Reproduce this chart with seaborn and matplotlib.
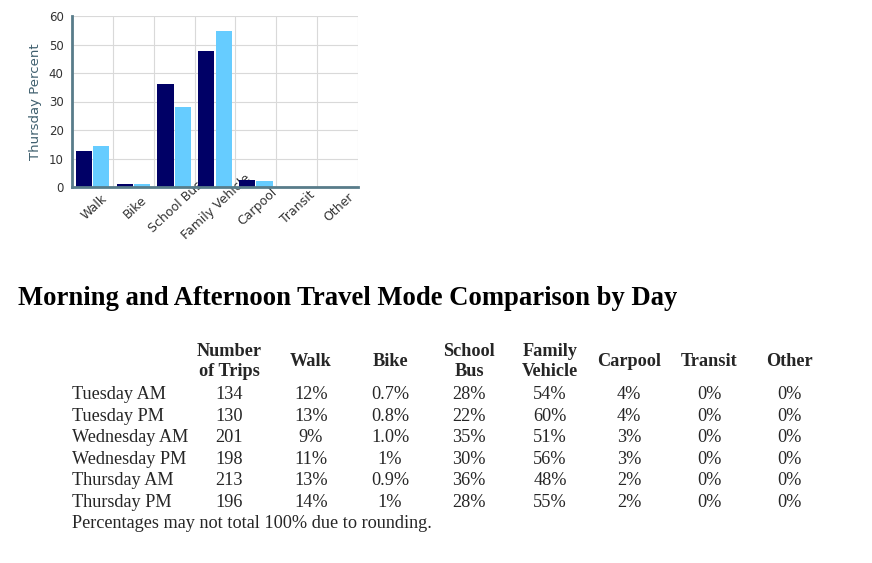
import numpy as np
import pandas as pd
import matplotlib
matplotlib.use("Agg")
import matplotlib.pyplot as plt
import matplotlib.transforms as mtransforms
import seaborn as sns

# ---------------- data ----------------
modes = ["Walk", "Bike", "School Bus", "Family Vehicle", "Carpool", "Transit", "Other"]
thursday_am = [12.7, 0.9, 36.2, 47.6, 2.5, 0.0, 0.0]
thursday_pm = [14.3, 1.0, 28.1, 54.6, 2.1, 0.0, 0.0]
y_ticks = [0, 10, 20, 30, 40, 50, 60]

title_text = "Morning and Afternoon Travel Mode Comparison by Day"
header_top = ["Number", "", "", "School", "Family", "", "", ""]
header_bot = ["of Trips", "", "", "Bus", "Vehicle", "", "", ""]
header_single = ["", "Walk", "Bike", "", "", "Carpool", "Transit", "Other"]
row_labels = ["Tuesday AM", "Tuesday PM", "Wednesday AM", "Wednesday PM",
              "Thursday AM", "Thursday PM"]
trips = ["134", "130", "201", "198", "213", "196"]
walk = ["12%", "13%", "9%", "11%", "13%", "14%"]
bike = ["0.7%", "0.8%", "1.0%", "1%", "0.9%", "1%"]
school_bus = ["28%", "22%", "35%", "30%", "36%", "28%"]
family_vehicle = ["54%", "60%", "51%", "56%", "48%", "55%"]
carpool = ["4%", "4%", "3%", "3%", "2%", "2%"]
transit = ["0%", "0%", "0%", "0%", "0%", "0%"]
other = ["0%", "0%", "0%", "0%", "0%", "0%"]
footnote = "Percentages may not total 100% due to rounding."

# ---------------- figure ----------------
W, H = 872, 563
DPI = 100
sns.set_theme(style="white")
plt.rcParams["font.family"] = ["DejaVu Sans"]
fig = plt.figure(figsize=(W / DPI, H / DPI), dpi=DPI)
fig.patch.set_facecolor("white")

ax_l, ax_r, ax_t, ax_b = 72, 358, 16, 187
ax = fig.add_axes([ax_l / W, 1 - ax_b / H, (ax_r - ax_l) / W, (ax_b - ax_t) / H])

df = pd.DataFrame({
    "mode": modes * 2,
    "period": ["AM"] * len(modes) + ["PM"] * len(modes),
    "value": thursday_am + thursday_pm,
})
sns.barplot(data=df, x="mode", y="value", hue="period", order=modes,
            hue_order=["AM", "PM"], palette=["#000066", "#66CCFF"],
            saturation=1, width=0.84, gap=0.06, legend=False, ax=ax,
            zorder=3, linewidth=0, errorbar=None)

axis_col = "#587c8a"
ax.set_xlim(-0.5, len(modes) - 0.5)
ax.set_ylim(0, 60)
ax.set_yticks(y_ticks)
ax.set_yticklabels([str(v) for v in y_ticks], fontsize=8.5, color="#333333")
ax.set_xticks(np.arange(len(modes)))
ax.set_xticklabels([""] * len(modes))
ax.set_xticks(np.arange(-0.5, len(modes), 1.0), minor=True)

# rotated category labels, centred below each category (drawn beneath bars)
offset = mtransforms.ScaledTranslation(1.5 / DPI, -20 / DPI, fig.dpi_scale_trans)
for i, m in enumerate(modes):
    ax.text(i, 0, m, transform=ax.get_xaxis_transform() + offset,
            rotation=43, rotation_mode="anchor", ha="center", va="center",
            fontsize=9.0, color="#333333", clip_on=False, zorder=1)

ax.tick_params(axis="x", which="major", length=0)
ax.tick_params(axis="x", which="minor", length=4, width=1.5, color=axis_col,
               direction="out")
ax.tick_params(axis="y", which="major", length=4, width=1.5, color=axis_col,
               direction="out", pad=2)
ax.grid(False)
ax.yaxis.grid(True, color="#d9d9d9", linewidth=0.8, zorder=0)
ax.xaxis.grid(True, which="minor", color="#d9d9d9", linewidth=0.8, zorder=0)
ax.set_axisbelow(True)
for s in ["top", "right"]:
    ax.spines[s].set_visible(False)
for s in ["left", "bottom"]:
    ax.spines[s].set_color(axis_col)
    ax.spines[s].set_linewidth(2)
    ax.spines[s].set_zorder(4)
ax.set_xlabel("")
ax.set_ylabel("Thursday Percent", fontsize=9.5, color="#3f5f6e", labelpad=5)

# ---------------- text / table ----------------
def px(x, y):
    return x / W, 1 - y / H

serif = ["Liberation Serif", "DejaVu Serif"]
fs = 13.15  # pt

fig.text(*px(18, 305), title_text, fontsize=19.2, fontweight="bold",
         family=serif, ha="left", va="baseline", color="black")

col_x = [229, 311, 390, 469, 550, 629, 709, 789]
for cx, t, b, s in zip(col_x, header_top, header_bot, header_single):
    if t:
        fig.text(*px(cx, 355.5), t, fontsize=fs, fontweight="bold", family=serif,
                 ha="center", va="baseline")
    if b:
        fig.text(*px(cx, 376.5), b, fontsize=fs, fontweight="bold", family=serif,
                 ha="center", va="baseline")
    if s:
        fig.text(*px(cx, 366), s, fontsize=fs, fontweight="bold", family=serif,
                 ha="center", va="baseline")

columns = [trips, walk, bike, school_bus, family_vehicle, carpool, transit, other]
row_y0, row_dy = 399, 21.55
for i, lab in enumerate(row_labels):
    y = row_y0 + i * row_dy
    fig.text(*px(72, y), lab, fontsize=fs, family=serif, ha="left", va="baseline")
    for cx, col in zip(col_x, columns):
        fig.text(*px(cx, y), col[i], fontsize=fs, family=serif, ha="center",
                 va="baseline")

fig.text(*px(72, row_y0 + len(row_labels) * row_dy), footnote, fontsize=fs,
         family=serif, ha="left", va="baseline")

fig.savefig("out.png", dpi=DPI, facecolor="white")
